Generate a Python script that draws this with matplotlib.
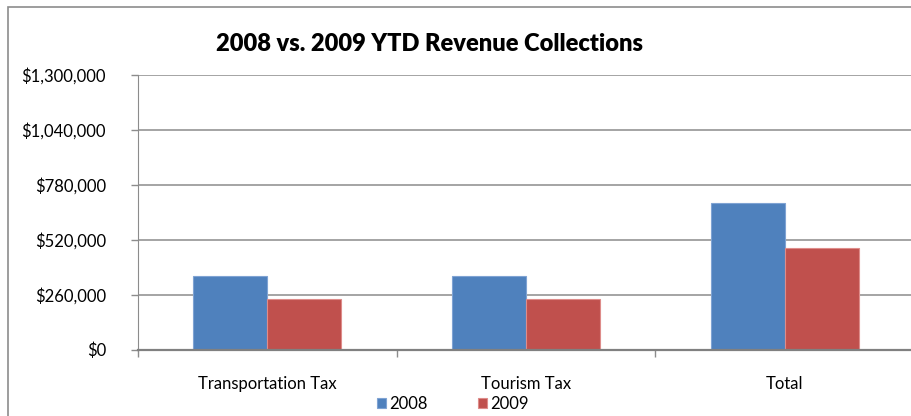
import numpy as np
import matplotlib.pyplot as plt
from matplotlib.patches import Rectangle

categories = ['Transportation Tax', 'Tourism Tax', 'Total']
series = ['2008', '2009']
vals_2008 = [348000, 347000, 695000]
vals_2009 = [241000, 241000, 482000]
yticks = [0, 260000, 520000, 780000, 1040000, 1300000]
title = '2008 vs. 2009 YTD Revenue Collections'

colors = ['#4F81BD', '#C0504D']
edges = ['#7FA3D3', '#DE8C8A']

plt.rcParams['font.family'] = ['Lato', 'DejaVu Sans']

W, H = 911, 416
fig = plt.figure(figsize=(W/100, H/100), dpi=100)

# outer chart border (right and bottom are cut off in the reference)
fig.patches.append(Rectangle((8/W, -0.5), 3, 1 - 7/H + 0.5, transform=fig.transFigure,
                             fill=False, edgecolor='#8C8C8C', linewidth=1.2))

left, right = 138, 914
bottom, top = 349.7, 74.7
ax = fig.add_axes([left/W, 1 - bottom/H, (right-left)/W, (bottom-top)/H])

x = np.arange(len(categories))
w = 0.2857
for i, (vals, name) in enumerate(zip([vals_2008, vals_2009], series)):
    ax.bar(x + (i - 0.5)*w, vals, w, color=colors[i], edgecolor=edges[i],
           linewidth=0.8, label=name, zorder=3)

ax.set_xlim(-0.5, len(categories) - 0.5)
ax.set_ylim(0, 1300000)
ax.set_yticks(yticks)
ax.set_yticklabels(['${:,}'.format(v) for v in yticks], fontsize=12)
ax.yaxis.grid(True, color='#8C8C8C', linewidth=1.1, zorder=0)

ax.set_xticks(x)
ax.set_xticklabels(categories, fontsize=12)
ax.tick_params(axis='x', which='major', length=0, pad=19)
ax.set_xticks(np.arange(-0.5, len(categories)), minor=True)
ax.tick_params(axis='x', which='minor', length=5, color='#8C8C8C', width=1)
ax.tick_params(axis='y', length=5, color='#8C8C8C', width=1, pad=18)

for s in ['top', 'right']:
    ax.spines[s].set_visible(False)
ax.spines['left'].set_color('#8C8C8C')
ax.spines['bottom'].set_color('#808080')
ax.spines['bottom'].set_linewidth(1.6)
ax.spines['bottom'].set_zorder(4)

fig.text(429/W, 1 - 44/H, title, ha='center', va='center', fontsize=17, fontweight='heavy')

fig.legend(loc='center', bbox_to_anchor=(453/W, 1 - 404/H), ncol=2, frameon=False,
           fontsize=12, handlelength=0.55, handleheight=0.55, handletextpad=0.2,
           columnspacing=3.0)

fig.savefig('out.png', dpi=100)
